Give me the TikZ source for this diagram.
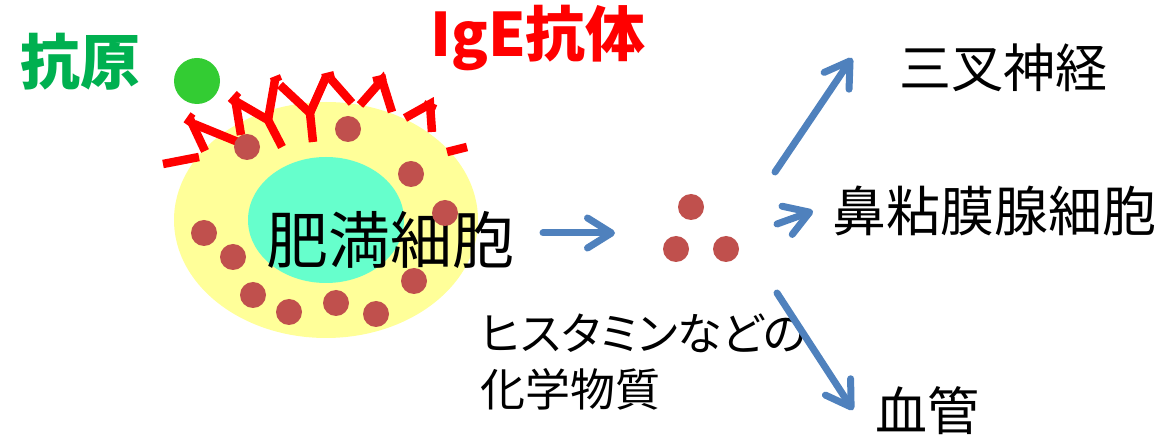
\documentclass[tikz,border=0pt]{standalone}
\usepackage{fontspec}
\setmainfont{Noto Sans CJK JP}
\newfontfamily\kanaprop[RawFeature=+palt]{Noto Sans CJK JP}
\usetikzlibrary{arrows.meta,positioning,shapes.geometric}

\definecolor{cellyellow}{HTML}{FFFF99}
\definecolor{nucleuscyan}{HTML}{66FFCC}
\definecolor{granulered}{HTML}{C0504D}
\definecolor{antigengreen}{HTML}{33CC33}
\definecolor{labelgreen}{HTML}{00B050}
\definecolor{flowblue}{HTML}{4F81BD}

\begin{document}
\begin{tikzpicture}[x=1pt, y=-1pt,
  cellbody/.style={ellipse, fill=cellyellow, minimum width=304pt, minimum height=236pt, inner sep=0pt},
  nucleus/.style={ellipse, fill=nucleuscyan, minimum width=156pt, minimum height=126pt, inner sep=0pt},
  granule/.style={circle, fill=granulered, minimum size=26pt, inner sep=0pt},
  ige/.style={draw=red, line width=8.5pt},
  hook/.style={draw=red, line width=6pt},
  arr/.style={-{Straight Barb[length=24pt, width=30pt, round]}, draw=flowblue, line width=7pt, line cap=round},
  lbl/.style={inner sep=0pt, font=\fontsize{52}{60}\selectfont}
]
\useasboundingbox (0,0) rectangle (1171,435);

% mast cell
\node[cellbody] (cell) at (326,220) {};

% IgE on the membrane
\draw[ige] (163,164) -- (199,157);
\draw[ige] (205,151) -- (190,119);
\draw[ige] (194,124) -- (238,142);
\draw[ige] (241,135) -- (235,98);
\draw[ige] (237,102) -- (268,120) -- (282,147);
\draw[ige] (268,120) -- (275,80);
\draw[ige] (280,85) -- (310,113) -- (313,142);
\draw[ige] (310,113) -- (326,77);
\draw[ige] (330,78) -- (352,103);
\draw[ige] (360,105) -- (382,80) -- (392,112);
\draw[ige] (405,118) -- (430,104) -- (432,132);
\draw[ige] (447,152) -- (467,147);
\draw[hook] (186,124) -- (193,114);
\draw[hook] (230,103) -- (239,93);
\draw[hook] (271,81) -- (281,77);
\draw[hook] (322,77) -- (334,74);
\draw[hook] (373,80) -- (386,77);
\draw[hook] (424,103) -- (436,108);

\node[nucleus] (nuc) at (326,220) {};
\node[lbl, font=\fontsize{62}{70}\selectfont] (mast) at (390,240) {肥満細胞};

% granules
\foreach \gx/\gy [count=\i] in {247/147, 348/129, 411/174, 445/213, 204/233, 233/257,
    253/295, 289/312, 336/303, 376/314, 414/281}
  \node[granule] (g\i) at (\gx,\gy) {};

% antigen
\node[circle, fill=antigengreen, minimum size=46pt, inner sep=0pt] (antigen) at (197,81) {};
\node[lbl, text=labelgreen, font=\fontsize{60}{70}\selectfont\bfseries] (antigenlbl) at (80,62) {抗原};
\node[lbl, text=red, font=\fontsize{60}{70}\selectfont\bfseries] (igelbl) at (538,38) {IgE抗体};

% released mediators
\node[granule] (h1) at (691,207) {};
\node[granule] (h2) at (676,249) {};
\node[granule] (h3) at (726,249) {};
\node[lbl, font=\fontsize{45}{56}\selectfont\kanaprop, align=left, anchor=west] (chem) at (480,362) {ヒスタミンなどの\\化学物質};

% targets
\node[lbl] (nerve) at (1003,68) {三叉神経};
\node[lbl, font=\fontsize{54}{60}\selectfont] (gland) at (994,211) {鼻粘膜腺細胞};
\node[lbl] (vessel) at (927,411) {血管};

\coordinate (rel-a) at (543,233);
\coordinate (rel-b) at (615,233);
\coordinate (up-a) at (775,172);
\coordinate (up-b) at (852,58);
\coordinate (mid-a) at (777,224);
\coordinate (mid-b) at (813,211);
\coordinate (dn-a) at (777,293);
\coordinate (dn-b) at (853,410);

\draw[arr] (rel-a) -- (rel-b);
\draw[arr] (up-a) -- (up-b);
\draw[arr] (mid-a) -- (mid-b);
\draw[arr] (dn-a) -- (dn-b);
\end{tikzpicture}
\end{document}
